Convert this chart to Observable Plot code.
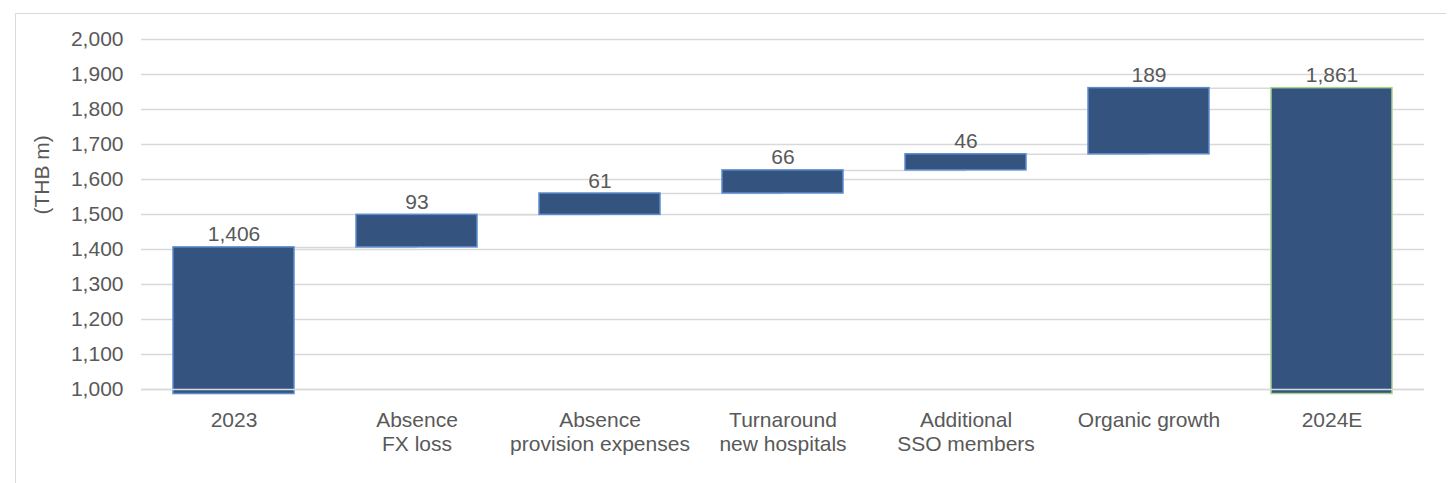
<!DOCTYPE html>
<html><head><meta charset="utf-8">
<script src="https://cdn.jsdelivr.net/npm/d3@7"></script>
<script src="https://cdn.jsdelivr.net/npm/@observablehq/plot@0.6"></script>
<style>
body{margin:0;background:#fff;}
#wrap{position:relative;width:1448px;height:483px;overflow:hidden;}
#wrap svg{position:absolute;left:0;top:0;}
#frame{position:absolute;left:15px;top:13px;width:1430px;height:520px;border-left:1.5px solid #d9d9d9;border-top:1.5px solid #d9d9d9;pointer-events:none;}
</style></head><body><div id="wrap"></div>
<script>
const categories = ["2023", "Absence\nFX loss", "Absence\nprovision expenses", "Turnaround\nnew hospitals", "Additional\nSSO members", "Organic growth", "2024E"];
const kinds = ["total", "delta", "delta", "delta", "delta", "delta", "total"];
const values = [1406, 93, 61, 66, 46, 189, 1861];
const valueLabels = ["1,406", "93", "61", "66", "46", "189", "1,861"];
const yTicks = [1000, 1100, 1200, 1300, 1400, 1500, 1600, 1700, 1800, 1900, 2000];
const axisFloor = 987;
const yTitle = "(THB m)";

let running = 0;
const rows = categories.map((cat, i) => {
  let start, end;
  if (kinds[i] === "total") { start = axisFloor; end = values[i]; running = values[i]; }
  else { start = running; end = running + values[i]; running = end; }
  return {cat, kind: kinds[i], start, end, label: valueLabels[i],
    stroke: i === categories.length - 1 ? "#a9d18e" : "#5b8ccf"};
});
const connectors = rows.slice(0, -1).map((r, i) => ({from: r.cat, to: rows[i + 1].cat, y: r.end}));

const txt = "#595959";
const chart = Plot.plot({
  width: 1448, height: 483,
  marginLeft: 141, marginRight: 24, marginTop: 39, marginBottom: 94,
  style: {fontFamily: "'Liberation Sans', Arial, sans-serif", fontSize: "21px", color: txt, background: "transparent"},
  x: {domain: categories, paddingInner: 0.34, paddingOuter: 0.17, label: null},
  y: {domain: [1000, 2000], label: null},
  color: {type: "identity"},
  marks: [
    Plot.gridY(yTicks, {stroke: "#d9d9d9", strokeOpacity: 1, strokeWidth: 1.5}),
    Plot.link(connectors, {x1: "from", x2: "to", y1: "y", y2: "y", stroke: "#d9d9d9", strokeWidth: 1.5}),
    Plot.barY(rows, {x: "cat", y1: "start", y2: "end", fill: "#34547f", stroke: "stroke", strokeWidth: 1.5}),
    Plot.ruleY([1000], {stroke: "#d9d9d9", strokeWidth: 1.5}),
    Plot.axisY(yTicks, {tickSize: 0, tickPadding: 18, tickFormat: d3.format(","), fontSize: 21, fill: txt, label: null}),
    Plot.axisX({tickSize: 0, tickPadding: 20, fontSize: 21, lineHeight: 1.15, fill: txt, label: null}),
    Plot.text(rows, {x: "cat", y: "end", text: "label", lineAnchor: "bottom", dy: -6, fontSize: 21, fill: txt}),
    Plot.text([yTitle], {frameAnchor: "left", dx: -99, rotate: -90, fontSize: 21, fill: txt})
  ]
});
const wrap = document.getElementById("wrap");
wrap.appendChild(chart);
const frame = document.createElement("div");
frame.id = "frame";
wrap.appendChild(frame);
</script>
</body></html>
